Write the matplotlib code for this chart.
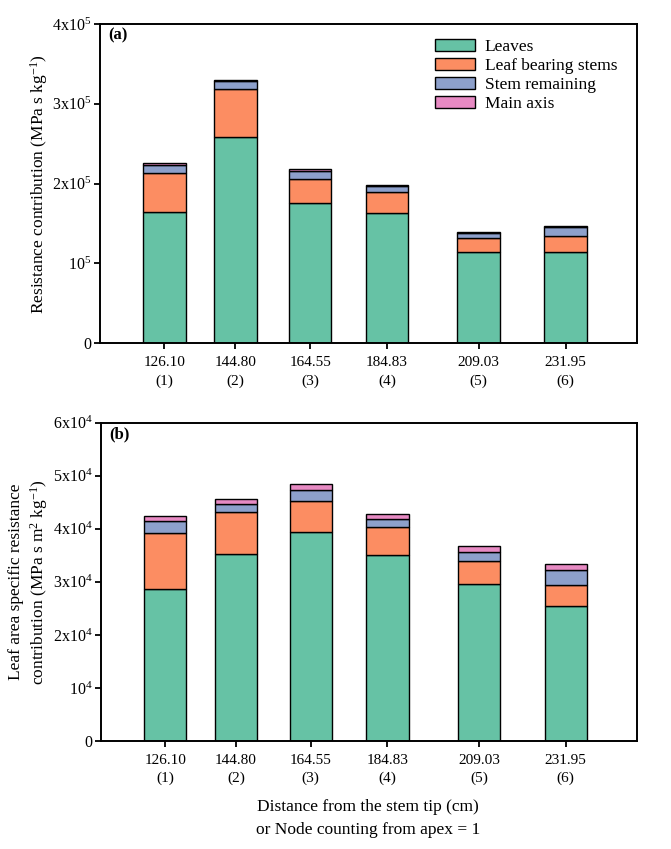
import matplotlib
matplotlib.use("Agg")
import matplotlib.pyplot as plt
from matplotlib.ticker import FixedLocator, FixedFormatter
import numpy as np

plt.rcParams['font.family'] = ['Liberation Serif', 'DejaVu Serif']
plt.rcParams['mathtext.fontset'] = 'custom'
plt.rcParams['mathtext.rm'] = 'Liberation Serif'
plt.rcParams['mathtext.it'] = 'Liberation Serif:italic'
plt.rcParams['mathtext.bf'] = 'Liberation Serif:bold'

# ---- data ----
distance = [126.10, 144.80, 164.55, 184.83, 209.03, 231.95]
node = ["(1)", "(2)", "(3)", "(4)", "(5)", "(6)"]
series = ["Leaves", "Leaf bearing stems", "Stem remaining", "Main axis"]
colors = ["#66c2a5", "#fc8d62", "#8da0cb", "#e78ac3"]

# panel (a): resistance contribution (MPa s kg-1)
a_leaves = [164200, 258500, 175400, 162900, 114000, 114000]
a_lbs = [48800, 59500, 30900, 27100, 18000, 20800]
a_stem = [10800, 10700, 9200, 7100, 6600, 10600]
a_main = [1700, 1300, 2500, 1300, 900, 1200]

# panel (b): leaf area specific resistance contribution (MPa s m2 kg-1)
b_leaves = [28710, 35310, 39340, 35000, 29590, 25390]
b_lbs = [10440, 7910, 5960, 5340, 4340, 4070]
b_stem = [2380, 1400, 1960, 1450, 1640, 2720]
b_main = [830, 940, 1130, 940, 1130, 1130]

a_yticks = [0, 1e5, 2e5, 3e5, 4e5]
a_ylabels = ["0", "10$^5$", "2x10$^5$", "3x10$^5$", "4x10$^5$"]
b_yticks = [0, 1e4, 2e4, 3e4, 4e4, 5e4, 6e4]
b_ylabels = ["0", "10$^4$", "2x10$^4$", "3x10$^4$", "4x10$^4$", "5x10$^4$", "6x10$^4$"]

W, H = 671, 849
fig = plt.figure(figsize=(W / 100, H / 100), dpi=100)

def axrect(l, r, t, b):
    return [l / W, 1 - b / H, (r - l) / W, (b - t) / H]

ax1 = fig.add_axes(axrect(100, 637, 24, 343.3))
ax2 = fig.add_axes(axrect(101, 637, 422.7, 741))

bar_w = 11.2
xlabels = [f"{d:.2f}\n{n}" for d, n in zip(distance, node)]

def draw(ax, parts, yticks, ylabels, ymax, letter):
    bottom = np.zeros(len(distance))
    for vals, c, lab in zip(parts, colors, series):
        ax.bar(distance, vals, width=bar_w, bottom=bottom, color=c,
               edgecolor="black", linewidth=1.0, label=lab)
        bottom = bottom + np.array(vals)
    ax.set_xlim(109.1, 250.8)
    ax.set_ylim(0, ymax)
    ax.yaxis.set_major_locator(FixedLocator(yticks))
    ax.yaxis.set_major_formatter(FixedFormatter(ylabels))
    ax.set_xticks(distance)
    ax.set_xticklabels(xlabels, linespacing=1.45)
    ax.tick_params(axis="both", direction="out", length=4.5, width=1.3,
                   labelsize=11, top=False, right=False)
    ax.tick_params(axis="x", pad=5)
    ax.tick_params(axis="y", pad=1.5, labelsize=11.5)
    for s in ax.spines.values():
        s.set_linewidth(1.4)
    ax.text(0.015, 0.963, letter, transform=ax.transAxes, fontsize=12,
            fontweight="bold", va="center", ha="left")

draw(ax1, [a_leaves, a_lbs, a_stem, a_main], a_yticks, a_ylabels, 4e5, "(a)")
draw(ax2, [b_leaves, b_lbs, b_stem, b_main], b_yticks, b_ylabels, 6e4, "(b)")

ax1.set_ylabel("Resistance contribution (MPa s kg$^{-1}$)", fontsize=12.5)
ax1.yaxis.set_label_coords(-0.094, 0.5)
ax2.set_ylabel("Leaf area specific resistance\ncontribution (MPa s m$^{2}$ kg$^{-1}$)",
               fontsize=12.5, linespacing=1.25)
ax2.yaxis.set_label_coords(-0.095, 0.5)

leg = ax1.legend(loc="upper left", bbox_to_anchor=(0.624, 0.953), frameon=False,
                 fontsize=12.5, borderpad=0, borderaxespad=0, labelspacing=0.17,
                 handlelength=2.3, handleheight=0.7, handletextpad=0.55)

fig.text(368 / W, 1 - 807 / H, "Distance from the stem tip (cm)", ha="center",
         va="center", fontsize=12.5)
fig.text(368 / W, 1 - 830 / H, "or Node counting from apex = 1", ha="center",
         va="center", fontsize=12.5)

fig.savefig("out.png", dpi=100)
